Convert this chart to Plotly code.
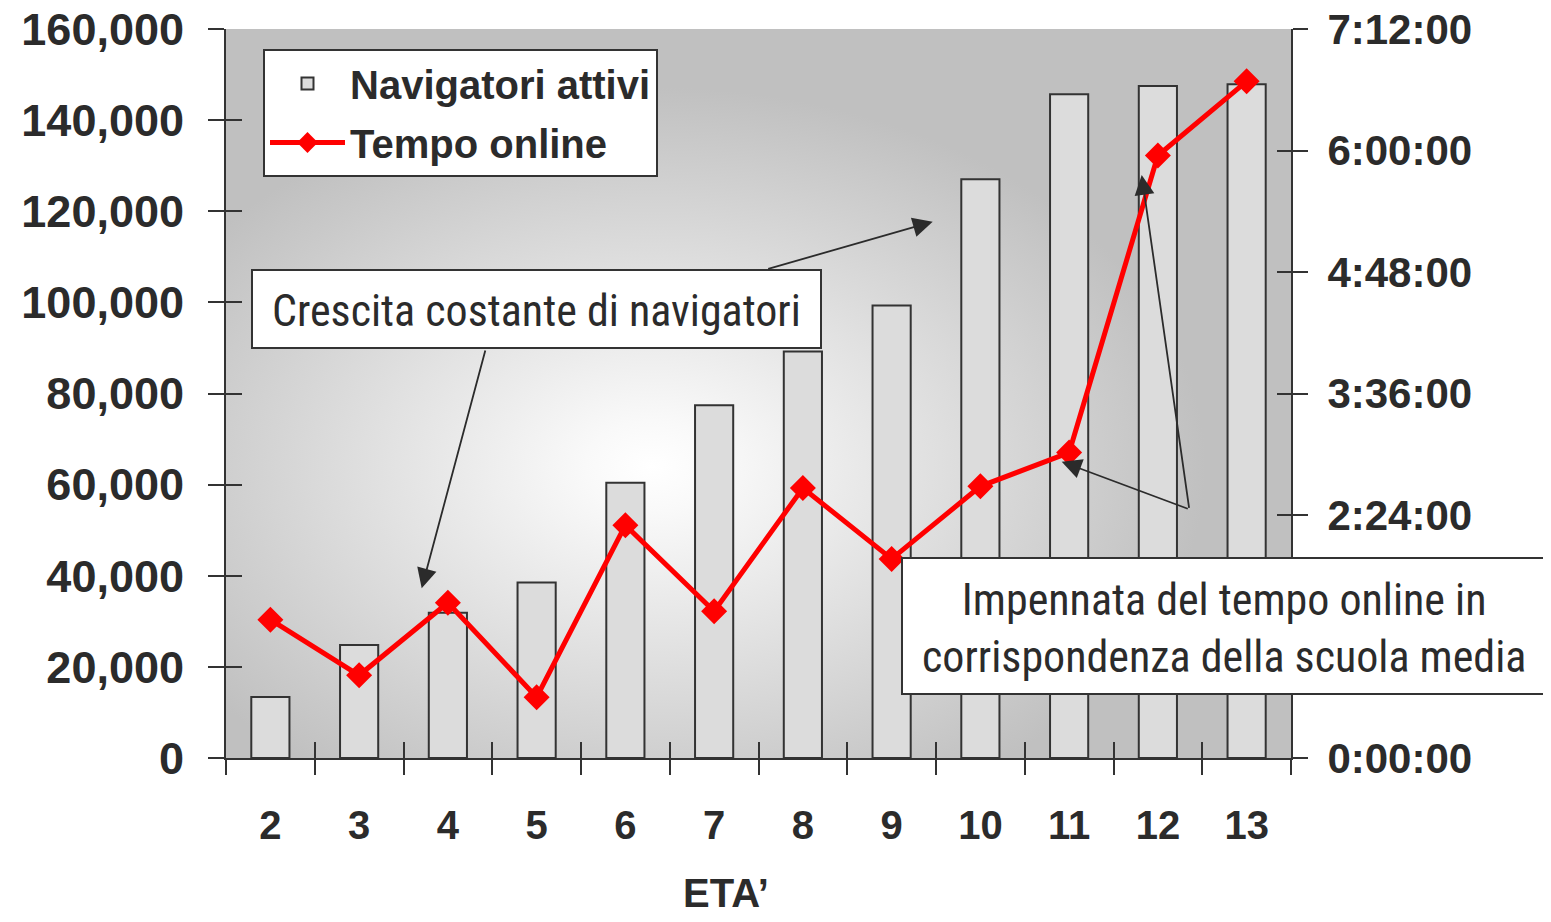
import base64
import plotly.graph_objects as go

# ---------------- data ----------------
ages = ["2", "3", "4", "5", "6", "7", "8", "9", "10", "11", "12", "13"]
navigatori_attivi = [13400, 24800, 31900, 38500, 60400, 77400, 89200, 99300,
                     127000, 145700, 147500, 147900]
tempo_online = ["1:22:00", "0:49:00", "1:32:00", "0:36:00", "2:18:00", "1:27:00",
                "2:40:00", "1:58:00", "2:41:00", "3:01:00", "5:57:00", "6:41:00"]
left_tickvals = [0, 20000, 40000, 60000, 80000, 100000, 120000, 140000, 160000]
right_tick_minutes = [0, 72, 144, 216, 288, 360, 432]
right_ticktext = ["0:00:00", "1:12:00", "2:24:00", "3:36:00", "4:48:00", "6:00:00", "7:12:00"]
series_names = ["Navigatori attivi", "Tempo online"]
note_growth = "Crescita costante di navigatori"
note_jump = "Impennata del tempo online in<br>corrispondenza della scuola media"
x_title = "ETA\u2019"


def to_minutes(s):
    h, m, sec = (int(v) for v in s.split(":"))
    return h * 60 + m + sec / 60.0


tempo_minutes = [to_minutes(t) for t in tempo_online]

# ---------------- style ----------------
# the page body adds an 8px margin, so the figure is a little smaller
W, H = 1543, 914
ML, MR, MT, MB = 218, 260, 21, 164
PW, PH = W - ML - MR, H - MT - MB
PLOT_LEFT, PLOT_BOTTOM = 226, 758  # on-screen position of the plot area
TXT = "#2b2b2b"
AX = "#333333"
BOLD = "Liberation Sans, Arial, sans-serif"
NARROW = "Roboto Condensed, Liberation Sans Narrow, Arial Narrow, sans-serif"


def px(x):
    return (x - PLOT_LEFT) / PW


def py(y):
    return (PLOT_BOTTOM - y) / PH


svg = (
    '<svg xmlns="http://www.w3.org/2000/svg" width="1065" height="729" '
    'viewBox="0 0 1065 729" preserveAspectRatio="none">'
    '<defs><radialGradient id="g" cx="0.40" cy="0.60" r="0.52" '
    'gradientUnits="objectBoundingBox">'
    '<stop offset="0" stop-color="#ffffff"/>'
    '<stop offset="0.12" stop-color="#f9f9f9"/>'
    '<stop offset="1" stop-color="#c0c0c0"/>'
    '</radialGradient></defs>'
    '<rect width="1065" height="729" fill="url(#g)"/></svg>'
)
bg_uri = "data:image/svg+xml;base64," + base64.b64encode(svg.encode()).decode()

fig = go.Figure()
fig.add_trace(go.Bar(
    x=ages, y=navigatori_attivi, name=series_names[0], legendgroup="a",
    marker=dict(color="#dcdcdc", line=dict(color=AX, width=2)),
    xaxis="x", yaxis="y",
))
fig.add_trace(go.Scatter(
    x=ages, y=tempo_minutes, name=series_names[1], mode="lines+markers",
    legendgroup="b",
    line=dict(color="#ff0000", width=5),
    marker=dict(symbol="diamond", size=20, color="#ff0000"),
    xaxis="x", yaxis="y2",
))
# empty helper traces so the inward tick axes get drawn
fig.add_trace(go.Scatter(x=[], y=[], xaxis="x2", yaxis="y3", showlegend=False,
                         hoverinfo="skip"))
fig.add_trace(go.Scatter(x=[], y=[], xaxis="x", yaxis="y4", showlegend=False,
                         hoverinfo="skip"))

tick_common = dict(tickcolor=AX, tickwidth=2, showgrid=False, zeroline=False,
                   automargin=False)

fig.update_layout(
    width=W, height=H,
    margin=dict(l=ML, r=MR, t=MT, b=MB, pad=0, autoexpand=False),
    paper_bgcolor="white", plot_bgcolor="rgba(0,0,0,0)",
    bargap=0.57,
    font=dict(family=BOLD, color=TXT),
    showlegend=True,
    legend=dict(
        x=px(263), y=py(49), xanchor="left", yanchor="top",
        bgcolor="white", bordercolor=AX, borderwidth=2,
        font=dict(family=BOLD, size=40, color=TXT, weight="bold"),
        itemwidth=75, tracegroupgap=4,
    ),
    xaxis=dict(
        type="category", range=[-0.5, 11.5], tickson="boundaries",
        ticks="outside", ticklen=15, showline=True, linecolor=AX, linewidth=2,
        tickfont=dict(size=40, weight="bold", color=TXT), ticklabelstandoff=31,
        ticklabeloverflow="allow", **tick_common,
    ),
    xaxis2=dict(
        overlaying="x", anchor="y", range=[-0.5, 11.5], tickmode="linear",
        tick0=-0.5, dtick=1, ticks="inside", ticklen=16, showticklabels=False,
        showline=False, **tick_common,
    ),
    yaxis=dict(
        range=[0, 160000], tickmode="array", tickvals=left_tickvals, tickformat=",",
        ticks="outside", ticklen=16, showline=True, linecolor=AX, linewidth=2,
        tickfont=dict(size=45, weight="bold", color=TXT), ticklabelstandoff=15,
        ticklabeloverflow="allow", **tick_common,
    ),
    yaxis2=dict(
        overlaying="y", side="right", anchor="x", range=[0, 432],
        tickmode="array", tickvals=right_tick_minutes, ticktext=right_ticktext,
        ticks="outside", ticklen=15, showline=True, linecolor=AX, linewidth=2,
        tickfont=dict(size=42, weight="bold", color=TXT), ticklabelstandoff=11,
        ticklabeloverflow="allow", **tick_common,
    ),
    yaxis3=dict(
        overlaying="y", side="left", anchor="x", range=[0, 160000],
        tickmode="array", tickvals=left_tickvals, ticks="inside", ticklen=16,
        showticklabels=False, showline=False, **tick_common,
    ),
    yaxis4=dict(
        overlaying="y", side="right", anchor="x", range=[0, 432],
        tickmode="array", tickvals=right_tick_minutes, ticks="inside", ticklen=14,
        showticklabels=False, showline=False, **tick_common,
    ),
    images=[dict(
        source=bg_uri, xref="paper", yref="paper", x=0, y=1, sizex=1, sizey=1,
        sizing="stretch", layer="below", xanchor="left", yanchor="top",
    )],
)

# callout boxes
fig.add_shape(type="rect", xref="paper", yref="paper",
              x0=px(252), x1=px(821), y0=py(348), y1=py(270),
              fillcolor="white", line=dict(color=AX, width=2), layer="above")
fig.add_shape(type="rect", xref="paper", yref="paper",
              x0=px(902), x1=px(1549), y0=py(694), y1=py(558),
              fillcolor="white", line=dict(color=AX, width=2), layer="above")

fig.add_annotation(text=note_growth, xref="paper", yref="paper",
                   x=px(536), y=py(311), showarrow=False,
                   xanchor="center", yanchor="middle",
                   font=dict(family=NARROW, size=44, color=TXT))
fig.add_annotation(text=note_jump, xref="paper", yref="paper",
                   x=px(1224), y=py(628), showarrow=False,
                   xanchor="center", yanchor="middle",
                   font=dict(family=NARROW, size=44, color=TXT))

arrows = [
    ((421.7, 588.3), (485.7, 349.0)),
    ((932.7, 221.7), (766.7, 269.3)),
    ((1061.7, 461.7), (1189.3, 509.3)),
    ((1141.7, 175.0), (1189.3, 509.3)),
]
for (hx, hy), (tx, ty) in arrows:
    fig.add_annotation(text="", xref="paper", yref="paper", x=px(hx), y=py(hy),
                       ax=tx - hx, ay=ty - hy, showarrow=True, arrowhead=2,
                       arrowsize=2.2, arrowwidth=1.8, arrowcolor=TXT, standoff=0)

fig.add_annotation(text=x_title, xref="paper", yref="paper", x=px(726), y=py(893),
                   showarrow=False, xanchor="center", yanchor="middle",
                   font=dict(family=BOLD, size=40, weight="bold", color=TXT))

fig.write_html("out.html")
